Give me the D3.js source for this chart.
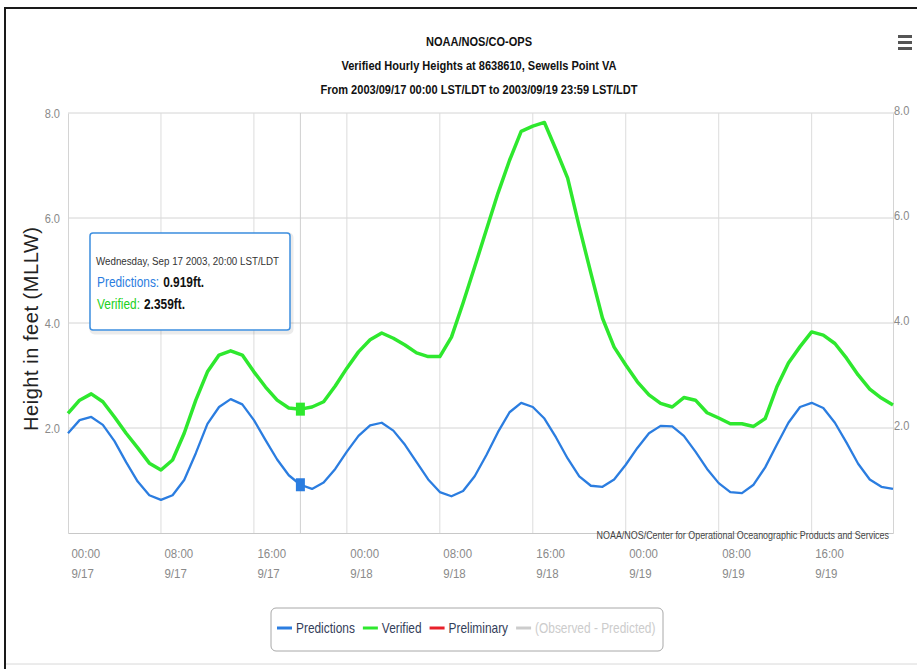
<!DOCTYPE html>
<html>
<head>
<meta charset="utf-8">
<script src="https://cdn.jsdelivr.net/npm/d3@7/dist/d3.min.js"></script>
<style>
body { margin: 0; background: #fff; }
svg { display: block; }
</style>
</head>
<body>
<div id="chart"></div>
<script>
// hourly values, 2003/09/17 00:00 .. 2003/09/19 23:00 (hour index 0..71)
const predictions = [
  1.90, 2.15, 2.21, 2.06, 1.75, 1.35, 0.98, 0.72, 0.63, 0.72, 1.01, 1.52,
  2.08, 2.40, 2.55, 2.45, 2.15, 1.77, 1.40, 1.10, 0.919, 0.84, 0.96, 1.22,
  1.55, 1.85, 2.05, 2.10, 1.95, 1.68, 1.35, 1.02, 0.78, 0.70, 0.80, 1.08,
  1.48, 1.92, 2.30, 2.48, 2.40, 2.18, 1.82, 1.42, 1.08, 0.90, 0.88, 1.02,
  1.30, 1.62, 1.90, 2.04, 2.03, 1.85, 1.55, 1.22, 0.95, 0.78, 0.76, 0.92,
  1.25, 1.68, 2.10, 2.40, 2.48, 2.38, 2.10, 1.72, 1.32, 1.02, 0.88, 0.84
]
const verified = [
  2.28, 2.53, 2.65, 2.50, 2.21, 1.90, 1.62, 1.33, 1.20, 1.39, 1.90, 2.53,
  3.07, 3.39, 3.47, 3.39, 3.07, 2.78, 2.53, 2.38, 2.359, 2.40, 2.50, 2.80,
  3.14, 3.45, 3.68, 3.81, 3.71, 3.58, 3.43, 3.36, 3.36, 3.73, 4.38, 5.07,
  5.77, 6.47, 7.10, 7.65, 7.75, 7.82, 7.30, 6.76, 5.83, 4.95, 4.09, 3.54,
  3.20, 2.88, 2.63, 2.47, 2.40, 2.58, 2.53, 2.29, 2.19, 2.08, 2.08, 2.03,
  2.18, 2.78, 3.24, 3.55, 3.83, 3.77, 3.61, 3.33, 3.01, 2.74, 2.57, 2.44
]
const tickHours = [0, 8, 16, 24, 32, 40, 48, 56, 64]
const tickTimes = ['00:00', '08:00', '16:00', '00:00', '08:00', '16:00', '00:00', '08:00', '16:00']
const tickDates = ['9/17', '9/17', '9/17', '9/18', '9/18', '9/18', '9/19', '9/19', '9/19']
const yTicks = [2, 4, 6, 8]
const hoverHour = 20
const legendItems = [
  {name: 'Predictions', color: '#2b7de0', text: '#34405a'},
  {name: 'Verified', color: '#2ee82e', text: '#34405a'},
  {name: 'Preliminary', color: '#e8202a', text: '#34405a'},
  {name: '(Observed - Predicted)', color: '#cccccc', text: '#cccccc'}
]

const W = 917, H = 669
const sans = '"Liberation Sans", Arial, sans-serif'
const plot = {left: 68, right: 893, top: 113, bottom: 533}
const K = 0.85

// the chart text is a narrow face; squeeze Liberation Sans horizontally
function squeeze(sel) {
  sel.each(function() {
    const x0 = +this.getAttribute('x') || 0
    this.setAttribute('x', x0 / K)
    this.setAttribute('transform', `scale(${K},1)`)
  })
  return sel
}

const svg = d3.select('#chart').append('svg')
  .attr('width', W)
  .attr('height', H)

// screenshot frame
svg.append('path')
  .attr('d', `M5,${H} V8 H${W}`)
  .attr('fill', 'none')
  .attr('stroke', '#1a1a1a')
  .attr('stroke-width', 2)
svg.append('line')
  .attr('x1', 6).attr('x2', W).attr('y1', 664).attr('y2', 664)
  .attr('stroke', '#d8d8d8')

const x = d3.scaleLinear().domain([0, 71]).range([plot.left, plot.right])
const y = d3.scaleLinear().domain([0, 8]).range([plot.bottom, plot.top])

// titles
const titles = ['NOAA/NOS/CO-OPS',
  'Verified Hourly Heights at 8638610, Sewells Point VA',
  'From 2003/09/17 00:00 LST/LDT to 2003/09/19 23:59 LST/LDT']
svg.selectAll('.title')
  .data(titles)
  .enter().append('text')
  .attr('class', 'title')
  .attr('x', 479)
  .attr('y', (d, i) => 46 + i * 24)
  .attr('text-anchor', 'middle')
  .attr('font-family', sans)
  .attr('font-weight', 'bold')
  .attr('font-size', 13)
  .attr('fill', '#111')
  .text(d => d)
  .call(squeeze)

// menu icon
svg.selectAll('.menu')
  .data([0, 1, 2])
  .enter().append('rect')
  .attr('x', 898).attr('y', d => 35 + d * 6)
  .attr('width', 14).attr('height', 3)
  .attr('fill', '#555')

// horizontal grid + labels both sides
svg.append('g').selectAll('line')
  .data(yTicks)
  .enter().append('line')
  .attr('x1', plot.left).attr('x2', plot.right + 2)
  .attr('y1', d => y(d)).attr('y2', d => y(d))
  .attr('stroke', '#d4d4d4')

const leftAxis = d3.axisLeft(y).tickValues(yTicks).tickSize(0).tickPadding(8)
  .tickFormat(d3.format('.1f'))
svg.append('g')
  .attr('transform', `translate(${plot.left},0)`)
  .call(leftAxis)
  .call(g => g.select('.domain').attr('stroke', '#d4d4d4'))
  .selectAll('text')
  .attr('font-family', sans).attr('font-size', 13).attr('fill', '#8a8a8a')
  .call(squeeze)

const rightAxis = d3.axisRight(y).tickValues(yTicks).tickSize(0).tickPadding(1)
  .tickFormat(d3.format('.1f'))
svg.append('g')
  .attr('transform', `translate(${plot.right},0)`)
  .call(rightAxis)
  .call(g => g.select('.domain').attr('stroke', '#d4d4d4'))
  .selectAll('text')
  .attr('dy', '0.1em')
  .attr('font-family', sans).attr('font-size', 13).attr('fill', '#8a8a8a')
  .call(squeeze)

// vertical grid at tick hours
svg.append('g').selectAll('line')
  .data(tickHours.slice(1))
  .enter().append('line')
  .attr('x1', d => x(d)).attr('x2', d => x(d))
  .attr('y1', plot.top).attr('y2', plot.bottom)
  .attr('stroke', '#dcdcdc')

// bottom axis
const bottomAxis = d3.axisBottom(x).tickValues(tickHours).tickSize(0).tickFormat('')
const xg = svg.append('g')
  .attr('transform', `translate(0,${plot.bottom})`)
  .call(bottomAxis)
xg.select('.domain').attr('stroke', '#c8c8c8')
xg.selectAll('.tick').each(function(d, i) {
  const tk = d3.select(this)
  ;[tickTimes[i], tickDates[i]].forEach((s, j) => {
    tk.append('text')
      .attr('x', 3).attr('y', 25 + j * 20)
      .attr('text-anchor', 'start')
      .attr('font-family', sans).attr('font-size', 13.5).attr('fill', '#8a8a8a')
      .text(s)
      .call(squeeze)
  })
})

// y axis title
svg.append('text')
  .attr('transform', `translate(38,${(plot.top + plot.bottom) / 2 + 6}) rotate(-90)`)
  .attr('text-anchor', 'middle')
  .attr('font-family', sans)
  .attr('font-size', 20)
  .attr('textLength', 204)
  .attr('lengthAdjust', 'spacing')
  .attr('fill', '#222')
  .text('Height in feet (MLLW)')

// crosshair
svg.append('line')
  .attr('x1', x(hoverHour)).attr('x2', x(hoverHour))
  .attr('y1', plot.top).attr('y2', plot.bottom)
  .attr('stroke', '#cfcfcf')

// credits
svg.append('text')
  .attr('x', 889).attr('y', 539)
  .attr('text-anchor', 'end')
  .attr('font-family', sans).attr('font-size', 10.5).attr('fill', '#444')
  .text('NOAA/NOS/Center for Operational Oceanographic Products and Services')
  .call(squeeze)

// series
const line = d3.line().x((d, i) => x(i)).y(d => y(d))
svg.append('path')
  .datum(predictions)
  .attr('d', line)
  .attr('fill', 'none')
  .attr('stroke', '#2b7de0')
  .attr('stroke-width', 2.3)
  .attr('stroke-linejoin', 'round')
svg.append('path')
  .datum(verified)
  .attr('d', line)
  .attr('fill', 'none')
  .attr('stroke', '#2ee82e')
  .attr('stroke-width', 3.5)
  .attr('stroke-linejoin', 'round')

// hover markers
svg.selectAll('.marker')
  .data([{v: predictions[hoverHour], c: '#2b7de0'}, {v: verified[hoverHour], c: '#2ee82e'}])
  .enter().append('rect')
  .attr('x', x(hoverHour) - 4.5)
  .attr('y', d => y(d.v) - 6.5)
  .attr('width', 9).attr('height', 13)
  .attr('fill', d => d.c)

// tooltip
const tip = svg.append('g').attr('transform', 'translate(90,233)')
tip.append('rect')
  .attr('x', 1.5).attr('y', 1.5)
  .attr('width', 200).attr('height', 98).attr('rx', 3)
  .attr('fill', 'none').attr('stroke', '#000').attr('stroke-opacity', 0.08).attr('stroke-width', 4)
tip.append('rect')
  .attr('width', 200).attr('height', 97).attr('rx', 3)
  .attr('fill', '#fff').attr('fill-opacity', 0.96)
  .attr('stroke', '#3d8fe0').attr('stroke-width', 1.5)
tip.append('text')
  .attr('x', 6).attr('y', 32)
  .attr('font-family', sans).attr('font-size', 11.5).attr('fill', '#333')
  .text('Wednesday, Sep 17 2003, 20:00 LST/LDT')
  .call(squeeze)
const tipRows = [
  {label: 'Predictions:', value: d3.format('.3f')(predictions[hoverHour]) + 'ft.', color: '#2b7de0'},
  {label: 'Verified:', value: d3.format('.3f')(verified[hoverHour]) + 'ft.', color: '#22d022'}
]
tipRows.forEach((r, i) => {
  const lab = tip.append('text')
    .attr('x', 7).attr('y', 54 + i * 22)
    .attr('font-family', sans).attr('font-size', 14)
    .attr('fill', r.color)
    .text(r.label)
  const lw = lab.node().getComputedTextLength() * K
  lab.call(squeeze)
  tip.append('text')
    .attr('x', 7 + lw + 4).attr('y', 54 + i * 22)
    .attr('font-family', sans).attr('font-size', 14).attr('font-weight', 'bold')
    .attr('fill', '#111')
    .text(r.value)
    .call(squeeze)
})

// legend
const lg = svg.append('g')
lg.append('rect')
  .attr('x', 271).attr('y', 608)
  .attr('width', 392).attr('height', 43).attr('rx', 5)
  .attr('fill', '#fff').attr('stroke', '#a8a8a8')
let lx = 277
legendItems.forEach(item => {
  lg.append('line')
    .attr('x1', lx).attr('x2', lx + 15)
    .attr('y1', 628).attr('y2', 628)
    .attr('stroke', item.color).attr('stroke-width', 3)
  const t = lg.append('text')
    .attr('x', lx + 19).attr('y', 633)
    .attr('font-family', sans).attr('font-size', 14)
    .attr('fill', item.text)
    .text(item.name)
  const tw = t.node().getComputedTextLength() * K
  t.call(squeeze)
  lx += 19 + tw + 8
})
</script>
</body>
</html>
